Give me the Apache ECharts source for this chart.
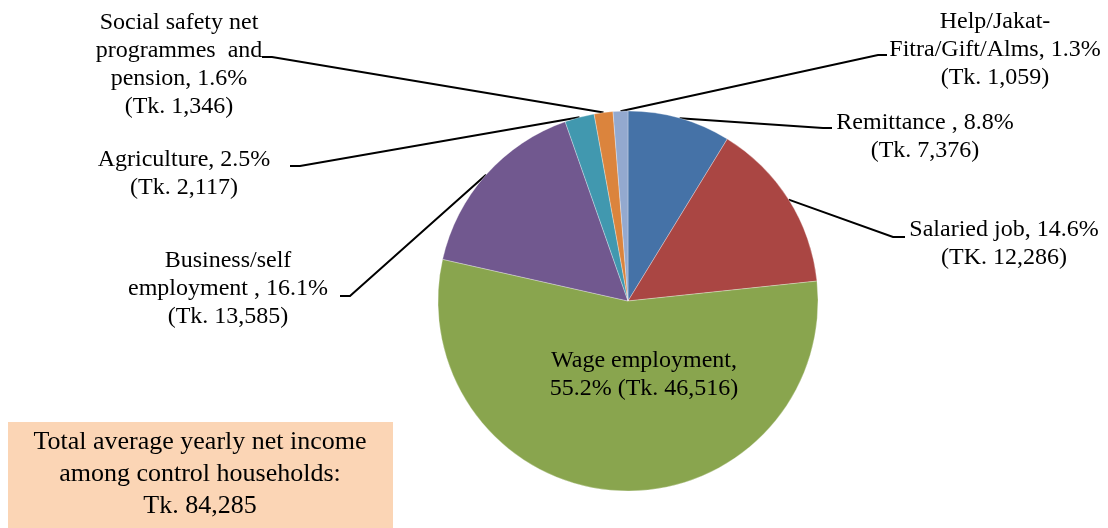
<!DOCTYPE html>
<html>
<head>
<meta charset="utf-8">
<script src="https://cdn.jsdelivr.net/npm/echarts@6/dist/echarts.min.js"></script>
<style>
html,body{margin:0;padding:0;background:#fff;}
#chart{width:1108px;height:528px;}
</style>
</head>
<body>
<div id="chart"></div>
<script>
// ---- data ----
var categories = ["Remittance ,", "Salaried job,", "Wage employment,", "Business/self\nemployment ,", "Agriculture,", "Social safety net\nprogrammes  and\npension,", "Help/Jakat-\nFitra/Gift/Alms,"];
var values = [7376, 12286, 46516, 13585, 2117, 1346, 1059];
var currencyPrefix = ["Tk.", "TK.", "Tk.", "Tk.", "Tk.", "Tk.", "Tk."];
var colors = ["#4572A7", "#AA4643", "#89A54E", "#71588F", "#4198AF", "#DB843D", "#93A9CF"];
var boxLines = ["Total average yearly net income", "among control households:"];

// ---- label layout (positions of label blocks and leader elbows) ----
var labelPos = [
  {x: 925, y: 137, elbow: [[823, 128], [832, 128]]},
  {x: 1004, y: 244, elbow: [[893, 237], [905, 237]]},
  {x: 644, y: 375, elbow: null},
  {x: 228, y: 289, elbow: [[350, 296], [340, 296]]},
  {x: 184, y: 174, elbow: [[300, 166], [290, 166]]},
  {x: 179, y: 65, elbow: [[272, 57], [262, 57]]},
  {x: 995, y: 50, elbow: [[878, 55], [887, 55]]}
];

function fmt(n) { return n.toString().replace(/\B(?=(\d{3})+(?!\d))/g, ","); }
var total = values.reduce(function (a, b) { return a + b; }, 0);

var chart = echarts.init(document.getElementById('chart'), null, {renderer: 'canvas'});
var FONT = '"Liberation Serif", "Times New Roman", serif';

var data = values.map(function (v, i) {
  var d = {value: v, name: categories[i], itemStyle: {color: colors[i]}};
  if (i === 2) {
    d.label = {position: 'inside'};
    d.labelLine = {show: false};
  }
  return d;
});

chart.setOption({
  backgroundColor: '#ffffff',
  animation: false,
  series: [{
    type: 'pie',
    center: [628, 301],
    radius: [0, 190],
    startAngle: 90,
    clockwise: true,
    avoidLabelOverlap: false,
    data: data,
    itemStyle: {borderColor: 'rgba(255,255,255,0.5)', borderWidth: 0.6},
    label: {
      show: true,
      position: 'outside',
      color: '#000',
      fontFamily: FONT,
      fontSize: 24,
      lineHeight: 28,
      align: 'center',
      formatter: function (p) {
        var i = p.dataIndex;
        var pct = (p.value / total * 100).toFixed(1) + '%';
        var val = '(' + currencyPrefix[i] + ' ' + fmt(p.value) + ')';
        if (i === 2) return p.name + '\n' + pct + ' ' + val;
        return p.name + ' ' + pct + '\n' + val;
      }
    },
    labelLine: {
      show: true,
      length: 10,
      length2: 10,
      smooth: false,
      lineStyle: {color: '#000', width: 2}
    },
    emphasis: {disabled: true},
    labelLayout: function (params) {
      var lp = labelPos[params.dataIndex];
      var res = {x: lp.x, y: lp.y, align: 'center', verticalAlign: 'middle'};
      if (lp.elbow && params.labelLinePoints) {
        res.labelLinePoints = [params.labelLinePoints[0], lp.elbow[0], lp.elbow[1]];
      }
      return res;
    }
  }],
  graphic: [
    {type: 'rect', shape: {x: 8, y: 422, width: 385, height: 110}, style: {fill: '#FBD5B5'}, silent: true},
    {type: 'text', x: 200, y: 442, style: {text: boxLines[0], font: '26px ' + FONT, fill: '#000', textAlign: 'center', textVerticalAlign: 'middle'}},
    {type: 'text', x: 200, y: 474, style: {text: boxLines[1], font: '26px ' + FONT, fill: '#000', textAlign: 'center', textVerticalAlign: 'middle'}},
    {type: 'text', x: 200, y: 506, style: {text: 'Tk. ' + fmt(total), font: '26px ' + FONT, fill: '#000', textAlign: 'center', textVerticalAlign: 'middle'}}
  ]
});
</script>
</body>
</html>
